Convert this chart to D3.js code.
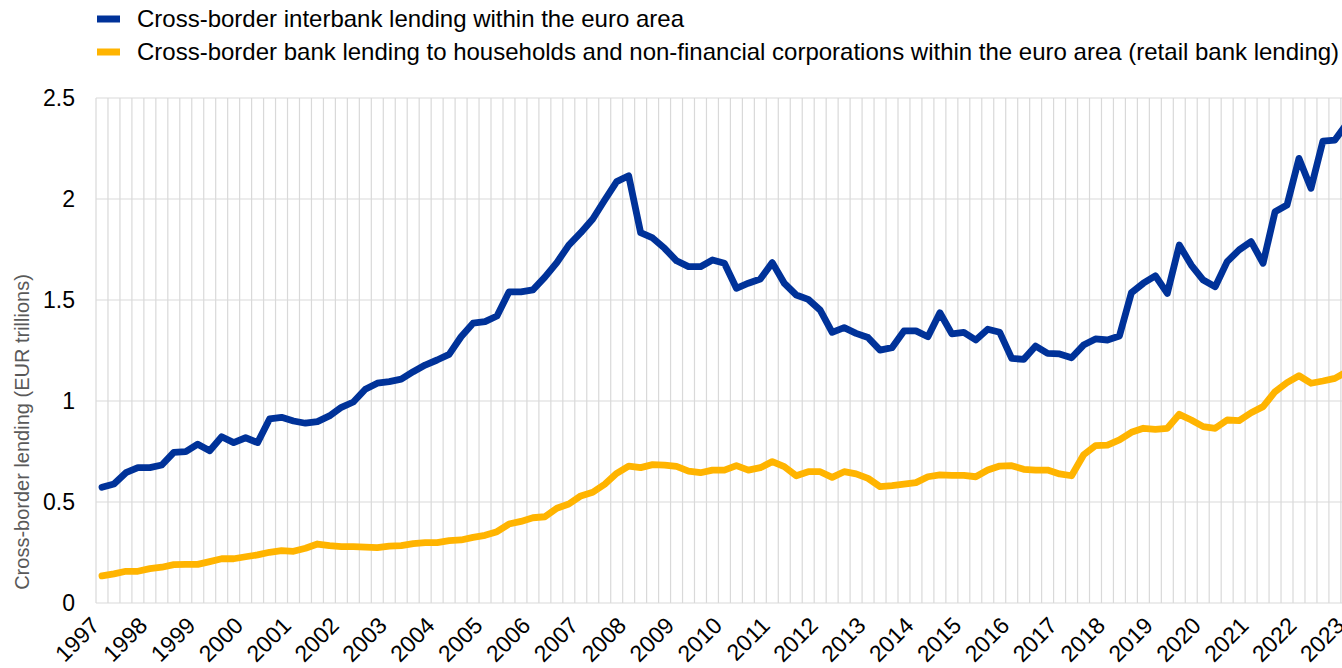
<!DOCTYPE html>
<html>
<head>
<meta charset="utf-8">
<script src="https://cdn.jsdelivr.net/npm/d3@7"></script>
<style>
  html, body { margin: 0; padding: 0; background: #fff; overflow: hidden; }
  svg { display: block; font-family: Arial, 'Liberation Sans', sans-serif; }
</style>
</head>
<body>
<div id="chart"></div>
<script>
// quarterly data, 1997 Q1 - 2023 Q1 (EUR trillions)
const yearLabels = ['1997', '1998', '1999', '2000', '2001', '2002', '2003', '2004', '2005',
  '2006', '2007', '2008', '2009', '2010', '2011', '2012', '2013', '2014', '2015', '2016',
  '2017', '2018', '2019', '2020', '2021', '2022', '2023'];
const quarterNames = ['Q1', 'Q2', 'Q3', 'Q4'];

const interbank = [
  0.573, 0.589, 0.645, 0.670, 0.670, 0.683, 0.746, 0.749, 0.786, 0.754,
  0.823, 0.794, 0.818, 0.794, 0.911, 0.919, 0.901, 0.890, 0.898, 0.926,
  0.969, 0.995, 1.058, 1.088, 1.096, 1.108, 1.145, 1.178, 1.203, 1.231,
  1.318, 1.385, 1.393, 1.421, 1.540, 1.540, 1.550, 1.613, 1.685, 1.772,
  1.833, 1.901, 1.995, 2.086, 2.115, 1.833, 1.807, 1.756, 1.694, 1.665,
  1.665, 1.698, 1.682, 1.558, 1.583, 1.604, 1.685, 1.583, 1.525, 1.503,
  1.450, 1.340, 1.363, 1.335, 1.314, 1.252, 1.264, 1.347, 1.347, 1.318,
  1.437, 1.332, 1.340, 1.302, 1.355, 1.340, 1.211, 1.206, 1.272, 1.236,
  1.233, 1.214, 1.277, 1.307, 1.302, 1.322, 1.536, 1.583, 1.620, 1.533,
  1.772, 1.673, 1.599, 1.566, 1.690, 1.748, 1.789, 1.682, 1.937, 1.970,
  2.201, 2.053, 2.287, 2.292, 2.373
];

const retail = [
  0.134, 0.144, 0.157, 0.157, 0.170, 0.177, 0.190, 0.191, 0.191, 0.205,
  0.219, 0.219, 0.229, 0.238, 0.251, 0.259, 0.256, 0.271, 0.292, 0.284,
  0.279, 0.279, 0.277, 0.274, 0.282, 0.284, 0.294, 0.299, 0.299, 0.309,
  0.312, 0.325, 0.335, 0.353, 0.391, 0.404, 0.422, 0.427, 0.469, 0.490,
  0.530, 0.548, 0.588, 0.642, 0.678, 0.670, 0.685, 0.683, 0.676, 0.653,
  0.645, 0.658, 0.658, 0.680, 0.658, 0.670, 0.700, 0.675, 0.630, 0.650,
  0.650, 0.622, 0.650, 0.639, 0.617, 0.576, 0.581, 0.588, 0.596, 0.625,
  0.634, 0.632, 0.632, 0.625, 0.658, 0.678, 0.680, 0.662, 0.658, 0.658,
  0.639, 0.630, 0.733, 0.779, 0.782, 0.807, 0.845, 0.865, 0.860, 0.865,
  0.934, 0.906, 0.873, 0.865, 0.906, 0.903, 0.942, 0.972, 1.046, 1.091,
  1.125, 1.088, 1.099, 1.112, 1.145
];

const seriesNames = [
  'Cross-border interbank lending within the euro area',
  'Cross-border bank lending to households and non-financial corporations within the euro area (retail bank lending)'
];
const seriesColors = ['#003299', '#FFB400'];
const yTicks = [0, 0.5, 1, 1.5, 2, 2.5];

const quarters = yearLabels.flatMap((y) => quarterNames.map((q) => `${y} ${q}`)).slice(0, interbank.length);

const width = 1342;
const height = 668;
const margin = { top: 98, left: 96, bottom: 65 };
const step = 11.97;
const plotBottom = height - margin.bottom;

const svg = d3
  .select('#chart')
  .append('svg')
  .attr('width', width)
  .attr('height', height);

svg.append('rect').attr('width', width).attr('height', height).attr('fill', '#fff');

const x = d3
  .scaleBand()
  .domain(quarters)
  .range([margin.left, margin.left + step * quarters.length])
  .padding(0);

const y = d3.scaleLinear().domain([0, 2.5]).range([plotBottom, margin.top]);

const cx = (q) => x(q) + x.bandwidth() / 2;

// vertical gridlines at category boundaries
const grid = svg.append('g').attr('stroke', '#d9d9d9').attr('stroke-width', 1.2);
grid
  .selectAll('line.v')
  .data([...quarters.map((q) => x(q)), x.range()[1]])
  .join('line')
  .attr('class', 'v')
  .attr('x1', (d) => d)
  .attr('x2', (d) => d)
  .attr('y1', y(2.5))
  .attr('y2', y(0));

grid
  .selectAll('line.h')
  .data(yTicks)
  .join('line')
  .attr('class', 'h')
  .attr('x1', margin.left)
  .attr('x2', x.range()[1])
  .attr('y1', (d) => y(d))
  .attr('y2', (d) => y(d));

// y axis
const yAxis = svg
  .append('g')
  .attr('transform', `translate(${margin.left},0)`)
  .call(d3.axisLeft(y).tickValues(yTicks).tickSize(0).tickPadding(21).tickFormat((d) => String(d)));
yAxis.select('.domain').remove();
yAxis.selectAll('text').attr('font-size', 23).attr('fill', '#000').attr('font-family', 'Arial, Liberation Sans, sans-serif');

// x axis with year labels at each Q1
const xAxis = svg
  .append('g')
  .attr('transform', `translate(0,${plotBottom})`)
  .call(
    d3
      .axisBottom(x)
      .tickValues(quarters.filter((q) => q.endsWith('Q1')))
      .tickSize(0)
      .tickFormat((q) => q.slice(0, 4))
  );
xAxis.select('.domain').remove();
xAxis
  .selectAll('text')
  .attr('font-size', 23)
  .attr('fill', '#000')
  .attr('font-family', 'Arial, Liberation Sans, sans-serif')
  .attr('text-anchor', 'end')
  .attr('dy', null)
  .attr('y', 0)
  .attr('transform', 'translate(-1,24) rotate(-45)');

// y axis title
svg
  .append('text')
  .attr('transform', `translate(29,${432}) rotate(-90)`)
  .attr('text-anchor', 'middle')
  .attr('font-size', 20)
  .attr('fill', '#595959')
  .text('Cross-border lending (EUR trillions)');

// lines
const line = d3
  .line()
  .x((d, i) => cx(quarters[i]))
  .y((d) => y(d));

[interbank, retail].forEach((series, k) => {
  svg
    .append('path')
    .datum(series)
    .attr('fill', 'none')
    .attr('stroke', seriesColors[k])
    .attr('stroke-width', 6.8)
    .attr('stroke-linejoin', 'round')
    .attr('stroke-linecap', 'round')
    .attr('d', line);
});

// legend
const legend = svg.append('g');
seriesNames.forEach((name, k) => {
  const cy = 19 + k * 33;
  legend
    .append('rect')
    .attr('x', 97)
    .attr('y', cy - 3.5)
    .attr('width', 23)
    .attr('height', 7)
    .attr('fill', seriesColors[k]);
  legend
    .append('text')
    .attr('x', 137)
    .attr('y', cy)
    .attr('dy', '0.35em')
    .attr('font-size', 24)
    .attr('fill', '#000')
    .text(name);
});
</script>
</body>
</html>
